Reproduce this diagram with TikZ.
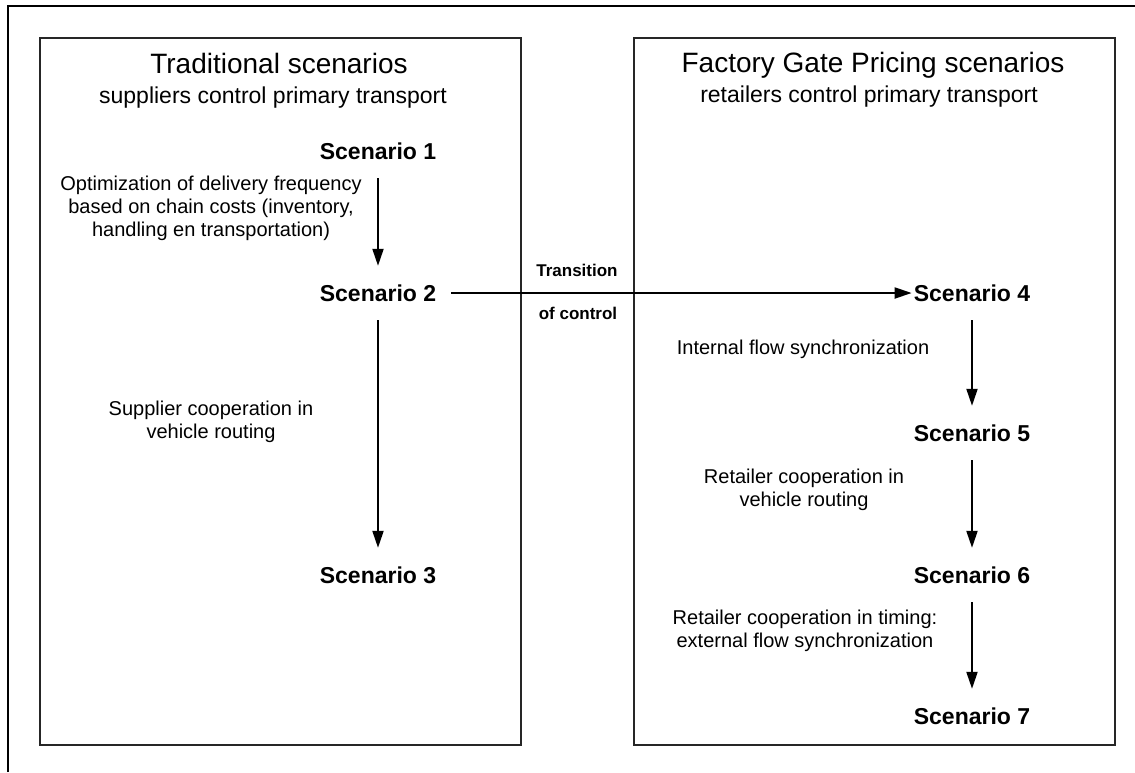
\documentclass[tikz,border=0pt]{standalone}
\usepackage{fontspec}
\setmainfont{Liberation Sans}
\usetikzlibrary{arrows.meta}
\begin{document}
\begin{tikzpicture}[x=1pt,y=-1pt,
  panel/.style={draw=black!85,line width=1.6pt},
  frameline/.style={draw=black,line width=1.5pt},
  scen/.style={font=\bfseries\fontsize{23}{27}\selectfont,inner xsep=2pt,inner ysep=0pt,minimum height=54pt,anchor=center},
  ttl/.style={font=\fontsize{28}{32}\selectfont,inner sep=0pt},
  subttl/.style={font=\fontsize{23}{27}\selectfont,inner sep=0pt},
  lbl/.style={font=\fontsize{20}{23}\selectfont,align=center,inner sep=0pt},
  trans/.style={font=\bfseries\fontsize{17}{20}\selectfont,inner sep=0pt},
  flow/.style={line width=2pt,-{Triangle[length=17pt,width=11pt]}}]
\useasboundingbox (0,0) rectangle (1135,772);
% outer frame (only top and left visible)
\coordinate (fa) at (8,772);
\coordinate (fb) at (8,6);
\coordinate (fc) at (1135,6);
\draw[frameline] (fa) -- (fb) -- (fc);
% panels
\draw[panel] (40,38) rectangle (521,745);
\draw[panel] (634,38) rectangle (1115,745);
% titles
\node[ttl] (t1) at (279,63) {Traditional scenarios};
\node[subttl] (st1) at (273,98) {suppliers control primary transport};
\node[ttl] (t2) at (873,65) {Factory Gate Pricing scenarios};
\node[subttl] (st2) at (869,97) {retailers control primary transport};
% scenarios
\node[scen] (s1) at (378,151) {Scenario 1};
\node[scen] (s2) at (378,293) {Scenario 2};
\node[scen] (s3) at (378,575) {Scenario 3};
\node[scen] (s4) at (972,293) {Scenario 4};
\node[scen] (s5) at (972,433) {Scenario 5};
\node[scen] (s6) at (972,575) {Scenario 6};
\node[scen] (s7) at (972,716) {Scenario 7};
% arrows
\draw[flow] (s1) -- (s2);
\draw[flow] (s2) -- (s3);
\draw[flow,shorten <=13pt] (s2) -- (s4);
\draw[flow] (s4) -- (s5);
\draw[flow] (s5) -- (s6);
\draw[flow] (s6) -- (s7);
% labels
\node[lbl] (l1) at (211,208) {Optimization of delivery frequency\\based on chain costs (inventory,\\handling en transportation)};
\node[lbl] (l2) at (211,422) {Supplier cooperation in\\vehicle routing};
\node[lbl] (l3) at (803,349) {Internal flow synchronization};
\node[lbl] (l4) at (804,490) {Retailer cooperation in\\vehicle routing};
\node[lbl] (l5) at (805,631) {Retailer cooperation in timing:\\external flow synchronization};
\node[trans] (tr1) at (577,270) {Transition};
\node[trans] (tr2) at (578,313) {of control};
\end{tikzpicture}
\end{document}
